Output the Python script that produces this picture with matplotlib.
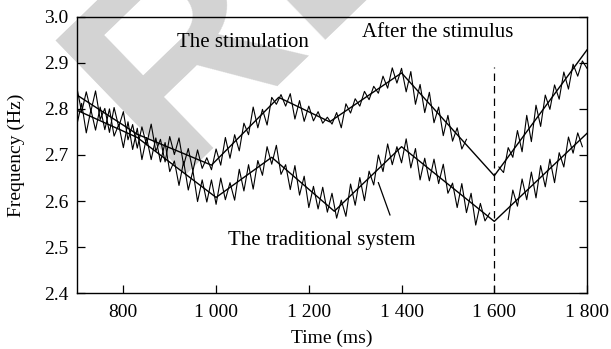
import numpy as np
import matplotlib
matplotlib.use("Agg")
import matplotlib.pyplot as plt

plt.rcParams['font.family'] = ['Liberation Serif', 'DejaVu Serif']

# sample times of the measured (zigzag) signals, ms
t_raw = np.arange(700, 1801, 10)

stim_raw = [2.845, 2.793, 2.837, 2.795, 2.839, 2.777, 2.801, 2.749, 2.803, 2.761,
            2.794, 2.733, 2.766, 2.715, 2.761, 2.722, 2.767, 2.708, 2.734, 2.685,
            2.740, 2.701, 2.737, 2.678, 2.714, 2.665, 2.711, 2.671, 2.694, 2.668,
            2.713, 2.678, 2.738, 2.693, 2.744, 2.709, 2.769, 2.744, 2.804, 2.759,
            2.799, 2.765, 2.825, 2.810, 2.831, 2.806, 2.833, 2.778, 2.818, 2.773,
            2.806, 2.774, 2.794, 2.769, 2.782, 2.767, 2.792, 2.759, 2.811, 2.791,
            2.822, 2.806, 2.838, 2.820, 2.849, 2.834, 2.871, 2.845, 2.889, 2.856,
            2.888, 2.837, 2.881, 2.810, 2.853, 2.792, 2.836, 2.770, 2.804, 2.742,
            2.786, 2.730, 2.759, 2.713, 2.734, np.nan, np.nan, np.nan, np.nan, np.nan,
            np.nan, 2.674, 2.662, 2.716, 2.695, 2.753, 2.707, 2.786, 2.729, 2.808,
            2.762, 2.830, 2.799, 2.852, 2.821, 2.880, 2.843, 2.897, 2.871, 2.904,
            2.888]

# traditional system: measured signal
trad_raw = [2.767, 2.812, 2.748, 2.798, 2.754, 2.804, 2.755, 2.800, 2.741, 2.766,
            2.716, 2.772, 2.712, 2.758, 2.690, 2.738, 2.690, 2.737, 2.685, 2.727,
            2.664, 2.687, 2.634, 2.686, 2.624, 2.666, 2.599, 2.646, 2.598, 2.646,
            2.593, 2.650, 2.603, 2.640, 2.602, 2.669, 2.622, 2.679, 2.626, 2.688,
            2.656, 2.718, 2.680, 2.721, 2.658, 2.679, 2.625, 2.677, 2.613, 2.654,
            2.586, 2.632, 2.583, 2.630, 2.576, 2.617, 2.563, 2.602, 2.567, 2.637,
            2.591, 2.651, 2.601, 2.665, 2.635, 2.700, 2.664, 2.724, 2.679, 2.718,
            2.683, 2.735, 2.672, 2.714, 2.646, 2.693, 2.644, 2.691, 2.638, 2.680,
            2.617, 2.639, 2.586, 2.638, 2.575, 2.617, 2.548, 2.595, 2.557, 2.574,
            np.nan, np.nan, np.nan, 2.560, 2.624, 2.589, 2.648, 2.603, 2.663, 2.607,
            2.677, 2.631, 2.691, 2.640, 2.705, 2.674, 2.739, 2.704, 2.748, 2.718,
            np.nan]

# fitted trend lines (break points)
stim_t = [700, 830, 990, 1135, 1245, 1400, 1600, 1800]
stim_fit = [2.830, 2.745, 2.678, 2.825, 2.772, 2.878, 2.655, 2.928]
trad_t = [700, 830, 1000, 1120, 1255, 1400, 1600, 1800]
trad_fit = [2.797, 2.738, 2.608, 2.695, 2.578, 2.718, 2.556, 2.747]

xticks = [800, 1000, 1200, 1400, 1600, 1800]
xtick_labels = ['800', '1 000', '1 200', '1 400', '1 600', '1 800']
yticks = [2.4, 2.5, 2.6, 2.7, 2.8, 2.9, 3.0]

fig = plt.figure(figsize=(6.11, 3.49), dpi=100)
ax = fig.add_axes([77/611, 1 - 293.3/349, 510/611, 276.6/349])
ax.set_facecolor('none')

# grey watermark behind the axes
fig.text(1.68, 1.74, 'RETRACTED', transform=fig.dpi_scale_trans,
         fontsize=195, fontweight='bold', family='Liberation Sans', color='#d3d3d3',
         rotation=44, rotation_mode='anchor', ha='left', va='baseline', zorder=-1)

ax.plot(t_raw, stim_raw, color='black', lw=0.8)
ax.plot(t_raw, trad_raw, color='black', lw=0.8)
ax.plot(stim_t, stim_fit, color='black', lw=1.0)
ax.plot(trad_t, trad_fit, color='black', lw=1.0)

ax.plot([1600, 1600], [2.4, 2.89], color='black', lw=0.9, ls=(0, (6, 4)))
ax.plot([1350, 1375], [2.64, 2.57], color='black', lw=0.9)

ax.text(1058, 2.943, 'The stimulation', fontsize=15, ha='center', va='center')
ax.text(1479, 2.965, 'After the stimulus', fontsize=15, ha='center', va='center')
ax.text(1228, 2.514, 'The traditional system', fontsize=15, ha='center', va='center')

ax.set_xlim(700, 1800)
ax.set_ylim(2.4, 3.0)
ax.set_xticks(xticks)
ax.set_xticklabels(xtick_labels)
ax.set_yticks(yticks)
ax.set_yticklabels([f'{v:.1f}' for v in yticks])
ax.tick_params(direction='in', length=6, width=0.9, labelsize=14, right=True,
               pad=6)
ax.tick_params(axis='x', pad=8)
for s in ax.spines.values():
    s.set_linewidth(1.0)

ax.set_xlabel('Time (ms)', fontsize=14, labelpad=6)
ax.set_ylabel('Frequency (Hz)', fontsize=14, labelpad=14)

fig.savefig('out.png', dpi=100)
